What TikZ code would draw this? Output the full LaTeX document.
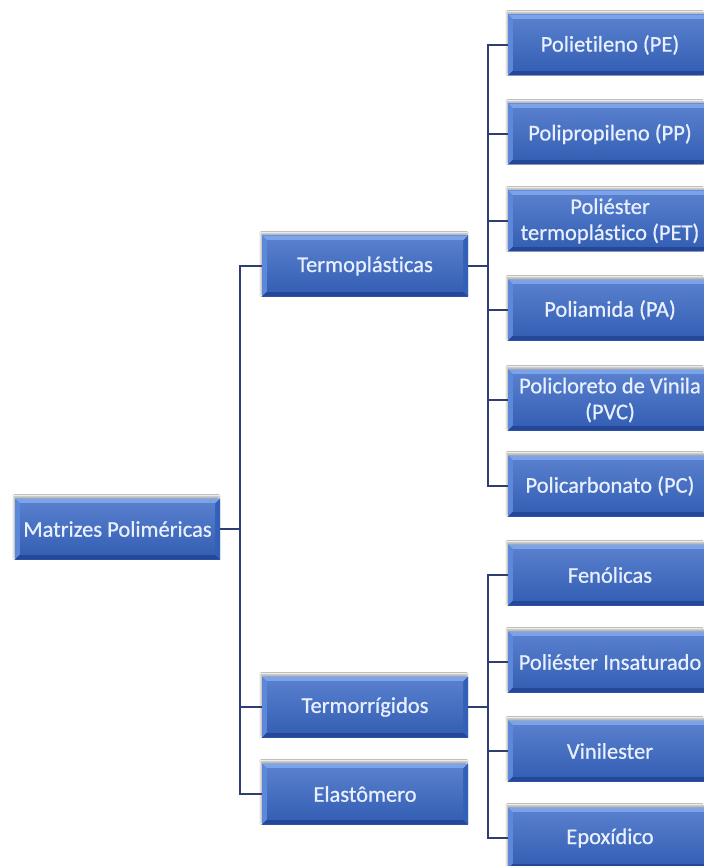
\documentclass[tikz,border=0pt]{standalone}
\usepackage{fontspec}
\setmainfont{Carlito}
\newfontfamily\boxfont{Carlito}[FakeBold=0.7, Ligatures=NoCommon]
\usetikzlibrary{shadows.blur}
\definecolor{boxmain}{HTML}{3A68C4}
\definecolor{bevtop}{HTML}{7BA3EA}
\definecolor{bevleft}{HTML}{5C88D9}
\definecolor{bevright}{HTML}{3360B8}
\definecolor{bevbot}{HTML}{24479A}
\definecolor{linecol}{HTML}{2E3E72}
\definecolor{txtcol}{HTML}{E8F0FF}
\begin{document}
\begin{tikzpicture}[x=1pt,y=1pt,
  blox/.style={rectangle, inner sep=0pt, minimum height=61pt, minimum width=205pt,
    fill=boxmain, text=txtcol, align=center,
    font=\boxfont\fontsize{22.5}{26}\selectfont,
    blur shadow={shadow xshift=-1pt, shadow yshift=2pt, shadow opacity=35, shadow blur steps=6},
    path picture={
      \coordinate (NW) at (path picture bounding box.north west);
      \coordinate (NE) at (path picture bounding box.north east);
      \coordinate (SW) at (path picture bounding box.south west);
      \coordinate (SE) at (path picture bounding box.south east);
      \fill[bevtop] (NW) -- (NE) -- ([shift={(-5pt,-5pt)}]NE) -- ([shift={(5pt,-5pt)}]NW) -- cycle;
      \fill[bevleft] (NW) -- ([shift={(5pt,-5pt)}]NW) -- ([shift={(5pt,5pt)}]SW) -- (SW) -- cycle;
      \fill[bevright] (NE) -- ([shift={(-5pt,-5pt)}]NE) -- ([shift={(-5pt,5pt)}]SE) -- (SE) -- cycle;
      \fill[bevbot] (SW) -- ([shift={(5pt,5pt)}]SW) -- ([shift={(-5pt,5pt)}]SE) -- (SE) -- cycle;
      \fill[top color=boxmain!85!white, bottom color=boxmain!92!black]
        ([shift={(5pt,-5pt)}]NW) rectangle ([shift={(-5pt,5pt)}]SE);
    }},
  conn/.style={draw=linecol, line width=1.5pt},
  stub/.style={draw=linecol, line width=2.8pt}]
\useasboundingbox (0,0) rectangle (703,-866);
\fill[white] (0,0) rectangle (703,-866);

% level 0
\node[blox] (root) at (117.5,-529) {Matrizes Poliméricas};
% level 1
\node[blox, minimum width=206pt] (tp) at (365,-266) {Termoplásticas};
\node[blox, minimum width=206pt] (tr) at (365,-707) {Termorrígidos};
\node[blox, minimum width=206pt] (el) at (365,-794) {Elastômero};
% level 2
\node[blox, minimum width=204pt] (pe)  at (610,-45)  {Polietileno (PE)};
\node[blox, minimum width=204pt] (pp)  at (610,-134) {Polipropileno (PP)};
\node[blox, minimum width=204pt] (pet) at (610,-221) {Poliéster\\termoplástico (PET)};
\node[blox, minimum width=204pt] (pa)  at (610,-310) {Poliamida (PA)};
\node[blox, minimum width=204pt] (pvc) at (610,-400) {Policloreto de Vinila\\(PVC)};
\node[blox, minimum width=204pt] (pc)  at (610,-486) {Policarbonato (PC)};
\node[blox, minimum width=204pt] (fen) at (610,-575) {Fenólicas};
\node[blox, minimum width=204pt] (pi)  at (610,-662) {Poliéster Insaturado};
\node[blox, minimum width=204pt] (vin) at (610,-751) {Vinilester};
\node[blox, minimum width=204pt] (epo) at (610,-838) {Epoxídico};

% buses
\coordinate (b1) at (240,-529);
\coordinate (b2) at (488,-266);
\coordinate (b3) at (488,-707);

\draw[stub] (root.east) -- (b1);
\draw[conn] (tp.west) -| (b1);
\draw[conn] (tr.west) -| (b1);
\draw[conn] (el.west) -| (b1);

\draw[stub] (tp.east) -- (b2);
\foreach \c in {pe,pp,pet,pa,pvc,pc} \draw[conn] (\c.west) -| (b2);

\draw[stub] (tr.east) -- (b3);
\foreach \c in {fen,pi,vin,epo} \draw[conn] (\c.west) -| (b3);
\end{tikzpicture}
\end{document}
